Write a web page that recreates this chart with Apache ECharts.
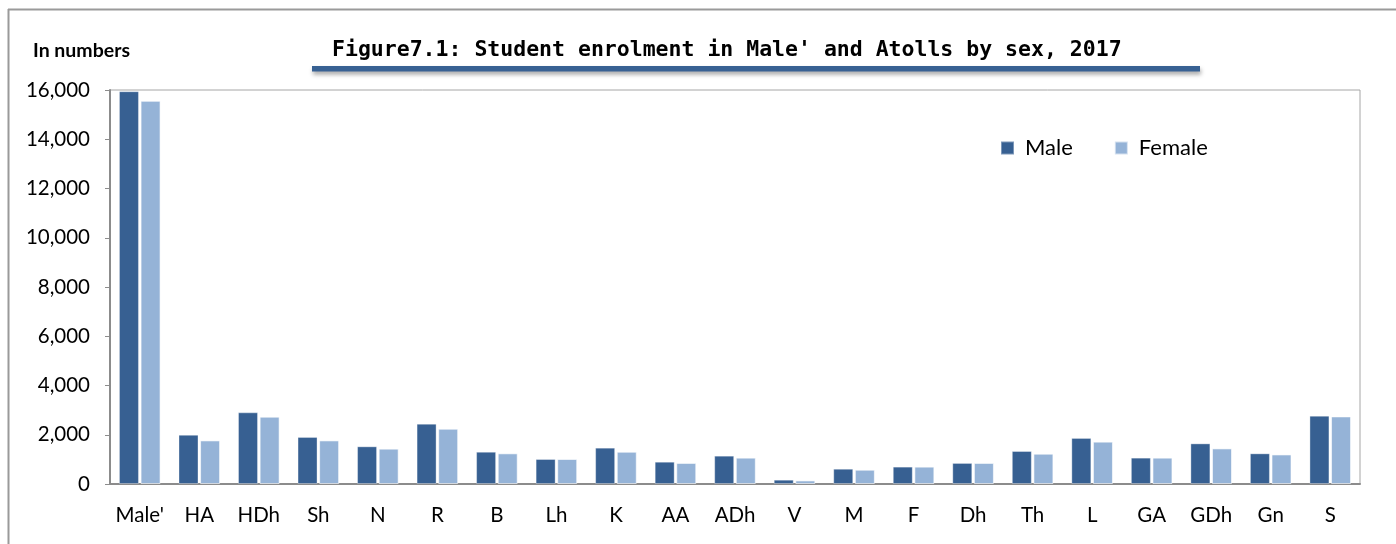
<!DOCTYPE html>
<html>
<head>
<meta charset="utf-8">
<script src="https://cdn.jsdelivr.net/npm/echarts@6/dist/echarts.min.js"></script>
<style>html,body{margin:0;padding:0;background:#fff;}#c{width:1396px;height:544px;}</style>
</head>
<body>
<div id="c"></div>
<script>
const categories = ["Male'", "HA", "HDh", "Sh", "N", "R", "B", "Lh", "K", "AA", "ADh", "V", "M", "F", "Dh", "Th", "L", "GA", "GDh", "Gn", "S"];
const maleValues = [15950, 2000, 2910, 1910, 1530, 2450, 1310, 1015, 1475, 905, 1150, 175, 620, 705, 855, 1340, 1870, 1070, 1650, 1245, 2775];
const femaleValues = [15560, 1770, 2735, 1770, 1435, 2245, 1245, 1015, 1310, 855, 1070, 145, 580, 705, 855, 1230, 1720, 1070, 1445, 1200, 2745];
const yTicks = { min: 0, max: 16000, interval: 2000 };

const chart = echarts.init(document.getElementById('c'));
const labelFont = 'Lato';
chart.setOption({
  animation: false,
  backgroundColor: '#fff',
  title: [{
    text: "Figure7.1: Student enrolment in Male' and Atolls by sex, 2017",
    left: 327, top: 34,
    textStyle: { fontFamily: 'DejaVu Sans Mono', fontWeight: 'bold', fontSize: 21.5, color: '#000' }
  }, {
    text: 'In numbers',
    left: 28, top: 36,
    textStyle: { fontFamily: labelFont, fontWeight: 'bold', fontSize: 19.5, color: '#000' }
  }],
  legend: {
    data: ['Male', 'Female'],
    left: 1000, top: 137,
    padding: 0,
    itemWidth: 13, itemHeight: 13, itemGap: 41,
    icon: 'rect',
    textStyle: { fontFamily: labelFont, fontSize: 22, color: '#000', padding: [0, 0, 0, 6] }
  },
  grid: { left: 110, right: 36, top: 90, bottom: 60, show: true, borderColor: '#a6a6a6', borderWidth: 1, containLabel: false },
  xAxis: {
    type: 'category',
    data: categories,
    axisLine: { lineStyle: { color: '#8c8c8c', width: 2 } },
    axisTick: { show: false },
    axisLabel: { interval: 0, fontFamily: labelFont, fontSize: 20.5, color: '#000', margin: 21 }
  },
  yAxis: {
    type: 'value',
    min: yTicks.min, max: yTicks.max, interval: yTicks.interval,
    axisLine: { show: true, lineStyle: { color: '#8c8c8c', width: 2 } },
    axisTick: { show: true, length: 5, lineStyle: { color: '#8c8c8c', width: 1 } },
    splitLine: { show: false },
    axisLabel: {
      fontFamily: labelFont, fontSize: 20.5, color: '#000', margin: 20,
      formatter: v => v.toLocaleString('en-US')
    }
  },
  series: [{
    name: 'Male', type: 'bar', data: maleValues, barWidth: 20, barGap: '8%',
    itemStyle: { color: '#376092', borderColor: 'rgba(255,255,255,0.35)', borderWidth: 1 }
  }, {
    name: 'Female', type: 'bar', data: femaleValues, barWidth: 20,
    itemStyle: { color: '#95b3d7', borderColor: 'rgba(255,255,255,0.6)', borderWidth: 1 }
  }],
  graphic: [
    { type: 'line', shape: { x1: 8, y1: 9.5, x2: 1396, y2: 9.5 }, style: { stroke: '#9a9a9a', lineWidth: 2 }, silent: true },
    { type: 'line', shape: { x1: 8.5, y1: 9, x2: 8.5, y2: 544 }, style: { stroke: '#9a9a9a', lineWidth: 2 }, silent: true },
    { type: 'rect', shape: { x: 312, y: 66, width: 888, height: 5.5 },
      style: { fill: '#386193', shadowBlur: 4, shadowOffsetY: 3, shadowOffsetX: 1, shadowColor: 'rgba(0,0,0,0.35)' }, silent: true }
  ]
});
</script>
</body>
</html>
